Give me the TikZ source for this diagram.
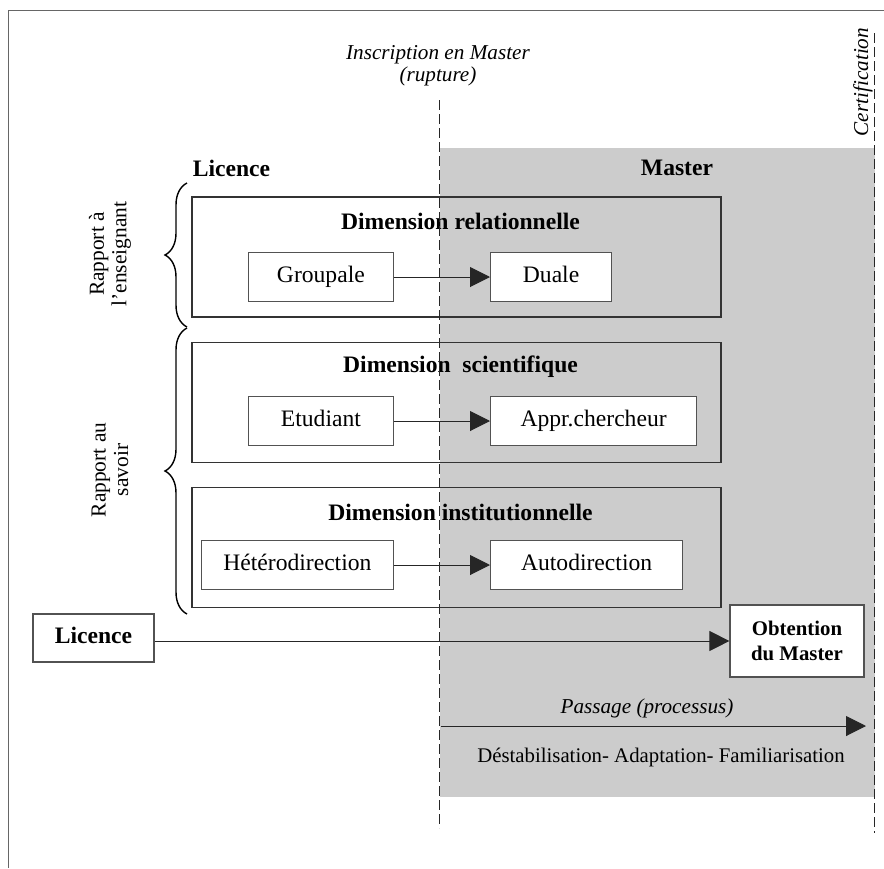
\documentclass[tikz,border=0pt]{standalone}
\usepackage{fontspec}
\setmainfont{Liberation Serif}
\usetikzlibrary{arrows.meta,positioning,calc,decorations.pathreplacing}
\definecolor{Shade}{HTML}{CCCCCC}
\definecolor{Edge}{HTML}{333333}
\definecolor{Rim}{HTML}{666666}
\tikzset{
  arr/.style={-{Triangle[length=10pt,width=10pt]},line width=0.5pt,draw=black!85},
  dimbox/.style={draw=Edge,line width=0.65pt,minimum width=264.5pt,minimum height=60pt,inner sep=0pt},
  cellbox/.style={draw=Edge!85,line width=0.6pt,fill=white,minimum height=24.5pt,inner sep=0pt,text height=8.2pt,text depth=2.6pt,font=\fontsize{11.8}{14}\selectfont},
  headlbl/.style={font=\fontsize{11.8}{14}\selectfont\bfseries},
  notelbl/.style={font=\fontsize{10.6}{11}\selectfont\itshape,align=center},
  sidelbl/.style={font=\fontsize{10.7}{11.2}\selectfont,align=center,rotate=90},
  cut/.style={dash pattern=on 5pt off 2pt,line width=0.5pt,draw=black!85},
  brc/.style={decorate,decoration={brace,amplitude=11pt},line width=0.7pt}
}
\begin{document}
\begin{tikzpicture}[x=0.5pt,y=-0.5pt,node distance=12pt]
  \useasboundingbox (0,0) rectangle (884,868);
  \fill[Shade] (440,148) rectangle (875,797);
  \draw[Rim,line width=0.5pt] (8,868)--(8,10)--(884,10);
  % labels at the top
  \node[notelbl] (insc) at (438,66) {Inscription en Master\\(rupture)};
  \node[notelbl,rotate=90] (cert) at (863,82) {Certification};
  \node[headlbl] (lic) at (231.5,168) {Licence};
  \node[headlbl] (mas) at (677,168) {Master};
  % the three dimensions
  \node[dimbox] (rel) at (456.5,257) {};
  \node[dimbox,below=of rel] (sci) {};
  \node[dimbox,below=of sci] (ins) {};
  \node[headlbl] at ($(rel.north)+(4,25)$) {Dimension relationnelle};
  \node[headlbl] at ($(sci.north)+(4,25)$) {Dimension\ \ scientifique};
  \node[headlbl] at ($(ins.north)+(4,25)$) {Dimension institutionnelle};
  \node[cellbox,anchor=east,minimum width=72.5pt] (grp) at (394,277) {Groupale};
  \node[cellbox,anchor=west,minimum width=60.5pt,right=48pt of grp.east] (dua) {Duale};
  \node[cellbox,anchor=east,minimum width=72.5pt] (etu) at (394,421) {Etudiant};
  \node[cellbox,anchor=west,minimum width=103pt,right=48pt of etu.east] (app) {Appr.chercheur};
  \node[cellbox,anchor=east,minimum width=96pt] (het) at (394,565) {Hétérodirection};
  \node[cellbox,anchor=west,minimum width=96pt,right=48pt of het.east] (aut) {Autodirection};
  \draw[arr] (grp)--(dua);\draw[arr] (etu)--(app);\draw[arr] (het)--(aut);
  % braces on the left
  \draw[brc] (187,327)--(187,183);
  \draw[brc] (187,614)--(187,328);
  \node[sidelbl] (ens) at (110,254) {Rapport à\\l’enseignant};
  \node[sidelbl] (sav) at (110,470) {Rapport au\\savoir};
  % from Licence to Master
  \node[cellbox,minimum width=60.5pt,minimum height=24pt,font=\fontsize{11.8}{14}\selectfont\bfseries] (lbox) at (93.5,638) {Licence};
  \node[cellbox,minimum width=67pt,minimum height=36pt,text height=,text depth=,align=center,font=\fontsize{10.4}{12.5}\selectfont\bfseries] (obt) at (797,641) {Obtention\\du Master};
  \draw[arr] (lbox.east|-obt.west)--(obt.west);
  \coordinate (p0) at (441,726);\coordinate (p1) at (866,726);
  \draw[arr] (p0)--(p1);
  \node[notelbl] (pas) at (647,708) {Passage (processus)};
  \node[font=\fontsize{10.4}{12}\selectfont] (des) at (661,757) {Déstabilisation- Adaptation- Familiarisation};
  % the two dashed cuts
  \coordinate (a0) at (439,100);\coordinate (a1) at (439,828);
  \coordinate (b0) at (874,33);\coordinate (b1) at (874,833);
  \draw[cut] (a0)--(a1);\draw[cut] (b0)--(b1);
\end{tikzpicture}
\end{document}
